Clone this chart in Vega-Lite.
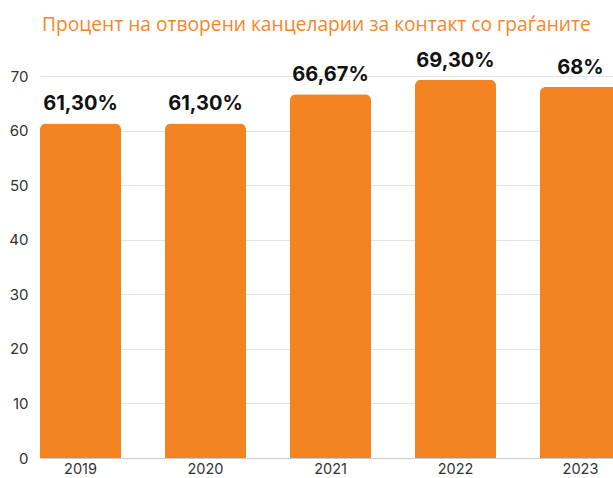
{
  "$schema": "https://vega.github.io/schema/vega-lite/v6.json",
  "autosize": {"type": "none"},
  "width": 573,
  "height": 382,
  "padding": {"left": 40, "top": 76, "right": 0, "bottom": 20},
  "background": "white",
  "title": {
    "text": "Процент на отворени канцеларии за контакт со граѓаните",
    "anchor": "start",
    "frame": "group",
    "dx": 2,
    "offset": 16,
    "font": "Open Sans",
    "fontSize": 19.2,
    "fontWeight": "normal",
    "color": "#F5862A"
  },
  "data": {
    "values": [
      {"year": "2019", "value": 61.3, "label": "61,30%"},
      {"year": "2020", "value": 61.3, "label": "61,30%"},
      {"year": "2021", "value": 66.67, "label": "66,67%"},
      {"year": "2022", "value": 69.3, "label": "69,30%"},
      {"year": "2023", "value": 68, "label": "68%"}
    ]
  },
  "encoding": {
    "x": {
      "field": "year",
      "type": "nominal",
      "scale": {"range": [0, 581], "paddingInner": 0.352, "paddingOuter": 0},
      "axis": {
        "title": null,
        "labelAngle": 0,
        "ticks": false,
        "domainColor": "#cccccc",
        "labelFont": "Inter",
        "labelFontSize": 14.5,
        "labelColor": "#333333",
        "labelPadding": 4
      }
    },
    "y": {
      "field": "value",
      "type": "quantitative",
      "scale": {"domain": [0, 70], "nice": false},
      "axis": {
        "title": null,
        "values": [0, 10, 20, 30, 40, 50, 60, 70],
        "domain": false,
        "ticks": false,
        "gridColor": "#e3e3e3",
        "labelFont": "Inter",
        "labelFontSize": 15,
        "labelColor": "#333333",
        "labelPadding": 12
      }
    }
  },
  "layer": [
    {
      "mark": {"type": "bar", "color": "#F48322", "cornerRadiusTopLeft": 6, "cornerRadiusTopRight": 6}
    },
    {
      "mark": {"type": "text", "font": "Inter", "fontSize": 20, "fontWeight": "bold", "color": "#111111", "baseline": "alphabetic", "dy": -13},
      "encoding": {"text": {"field": "label"}}
    }
  ],
  "config": {"view": {"stroke": null}}
}
